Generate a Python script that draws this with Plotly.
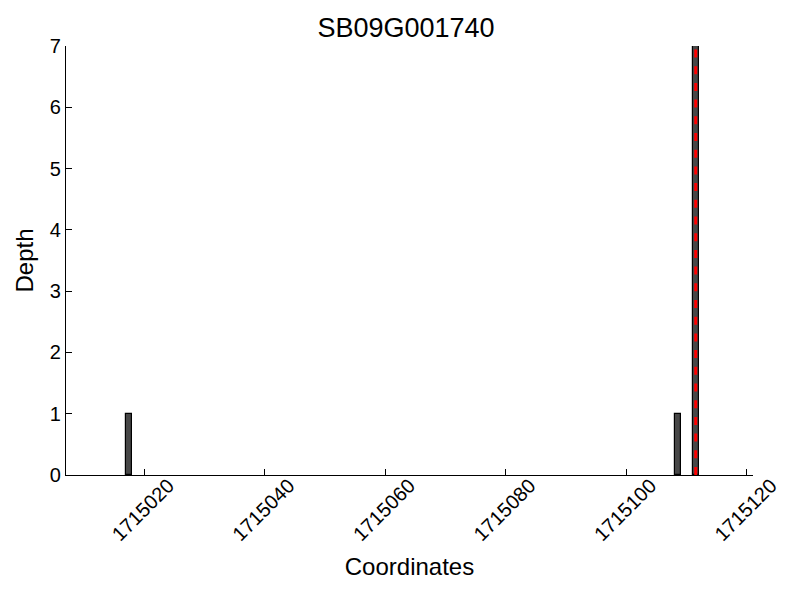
import plotly.graph_objects as go

title = "SB09G001740"
positions = [1715017, 1715108, 1715111]
depths = [1, 1, 7]
marker_pos = [1715111.5, 1715111.5]
marker_depth = [0, 7]
x_range = [1715007, 1715121]
y_range = [0, 7]
x_ticks = [1715020, 1715040, 1715060, 1715080, 1715100, 1715120]
y_ticks = [0, 1, 2, 3, 4, 5, 6, 7]

FONT = "Liberation Sans, Arial, sans-serif"

fig = go.Figure()
fig.add_trace(go.Bar(
    x=positions, y=depths, width=1, offset=0,
    marker=dict(color="#474747", line=dict(color="black", width=1.2)),
    showlegend=False, hoverinfo="x+y",
))
fig.add_trace(go.Scatter(
    x=marker_pos, y=marker_depth, mode="lines",
    line=dict(color="red", width=3, dash="8px,8.7px"),
    showlegend=False,
))

# the page body adds an 8px offset, so margins are compensated
fig.update_layout(
    width=800, height=600,
    paper_bgcolor="white", plot_bgcolor="white",
    margin=dict(l=58, r=55, t=38, b=133, autoexpand=False),
    font=dict(family=FONT, color="black"),
    title=dict(text=title, x=0.4975, xanchor="center", y=0.9667, yanchor="middle",
               font=dict(size=27, family=FONT, color="black")),
    bargap=0,
)
fig.update_xaxes(
    range=x_range, tickmode="array", tickvals=x_ticks,
    ticktext=[str(v) for v in x_ticks],
    tickangle=-45, ticks="inside", ticklen=6, tickcolor="black", tickwidth=1,
    showline=True, linecolor="black", linewidth=1.3, mirror=False,
    showgrid=False, zeroline=False, automargin=False,
    tickfont=dict(size=20, family=FONT, color="black"),
    ticklabelshift=24, ticklabelstandoff=-10,
    title=dict(text="Coordinates", font=dict(size=24, family=FONT, color="black"), standoff=14),
)
fig.update_yaxes(
    range=y_range, tickmode="array", tickvals=y_ticks,
    ticks="inside", ticklen=6, tickcolor="black", tickwidth=1,
    showline=True, linecolor="black", linewidth=1.3, mirror=False,
    showgrid=False, zeroline=False, automargin=False,
    tickfont=dict(size=20, family=FONT, color="black"),
    title=dict(text="Depth", font=dict(size=24, family=FONT, color="black"), standoff=9),
)

fig.write_html("out.html")
